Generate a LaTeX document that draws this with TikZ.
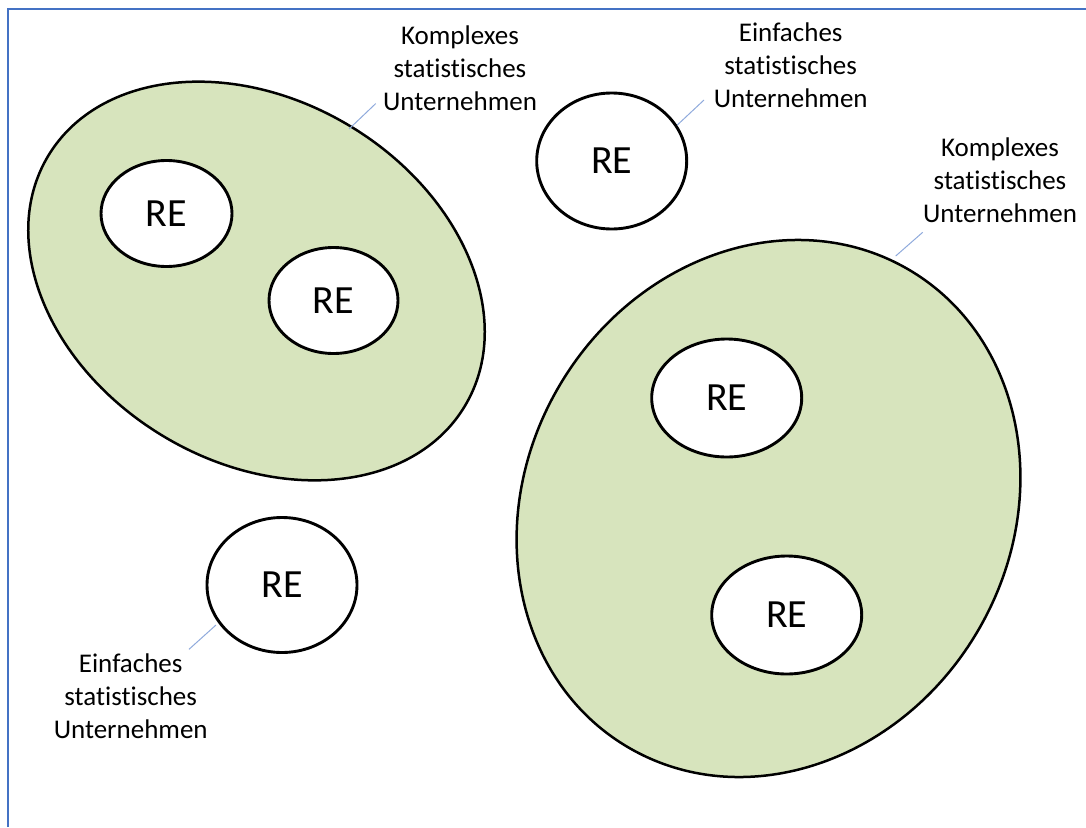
\documentclass[tikz,border=0pt]{standalone}
\usepackage{fontspec}
\setmainfont{Carlito}[Ligatures={NoCommon}]
\usetikzlibrary{shapes.geometric}
\definecolor{framebl}{HTML}{4472C4}
\definecolor{leadbl}{HTML}{8FAADC}
\definecolor{greenfill}{HTML}{D7E4BD}
\begin{document}
\begin{tikzpicture}[x=1pt,y=-1pt,
  bigell/.style={ellipse, draw=black, line width=2.5pt, fill=greenfill, inner sep=0pt},
  reell/.style={ellipse, draw=black, line width=2.9pt, fill=white, inner sep=0pt, font=\fontsize{40}{40}\selectfont},
  lbl/.style={align=center, font=\fontsize{27}{33}\selectfont, inner sep=0pt},
  leader/.style={draw=leadbl, line width=1pt}]
\useasboundingbox (0,0) rectangle (1086,827);
\draw[framebl, line width=2pt] (8,827) -- (8,9) -- (1086,9);

% big ellipses (complex enterprises)
\node[bigell, rotate=-31, minimum width=486pt, minimum height=362pt] (bigL) at (256.5,281) {};
\node[bigell, rotate=-30.6, minimum width=485pt, minimum height=554pt] (bigR) at (768.5,508.5) {};

% reporting units
\node[reell, minimum width=131pt, minimum height=106pt] (re1) at (166.5,213.5) {RE};
\node[reell, minimum width=129pt, minimum height=106pt] (re2) at (333.5,300.5) {RE};
\node[reell, minimum width=150pt, minimum height=136pt] (reT) at (611.7,161) {RE};
\node[reell, minimum width=150pt, minimum height=135pt] (reB) at (282,585) {RE};
\node[reell, minimum width=150pt, minimum height=118pt] (reR1) at (726.7,398) {RE};
\node[reell, minimum width=150pt, minimum height=118pt] (reR2) at (786.7,615) {RE};

% labels
\node[lbl] (lblKL) at (460,68.5) {Komplexes\\statistisches\\Unternehmen};
\node[lbl] (lblET) at (790.7,65.5) {Einfaches\\statistisches\\Unternehmen};
\node[lbl] (lblKR) at (1000,180) {Komplexes\\statistisches\\Unternehmen};
\node[lbl] (lblEB) at (130.7,696.5) {Einfaches\\statistisches\\Unternehmen};

% leader lines
\coordinate (kla) at (349,129);   \coordinate (klb) at (375.7,103.6);
\coordinate (eta) at (677.3,125); \coordinate (etb) at (704,100);
\coordinate (kra) at (895.7,256); \coordinate (krb) at (922.7,232.3);
\coordinate (eba) at (216,625);   \coordinate (ebb) at (189,649.3);
\draw[leader] (kla) -- (klb);
\draw[leader] (eta) -- (etb);
\draw[leader] (kra) -- (krb);
\draw[leader] (eba) -- (ebb);
\end{tikzpicture}
\end{document}
